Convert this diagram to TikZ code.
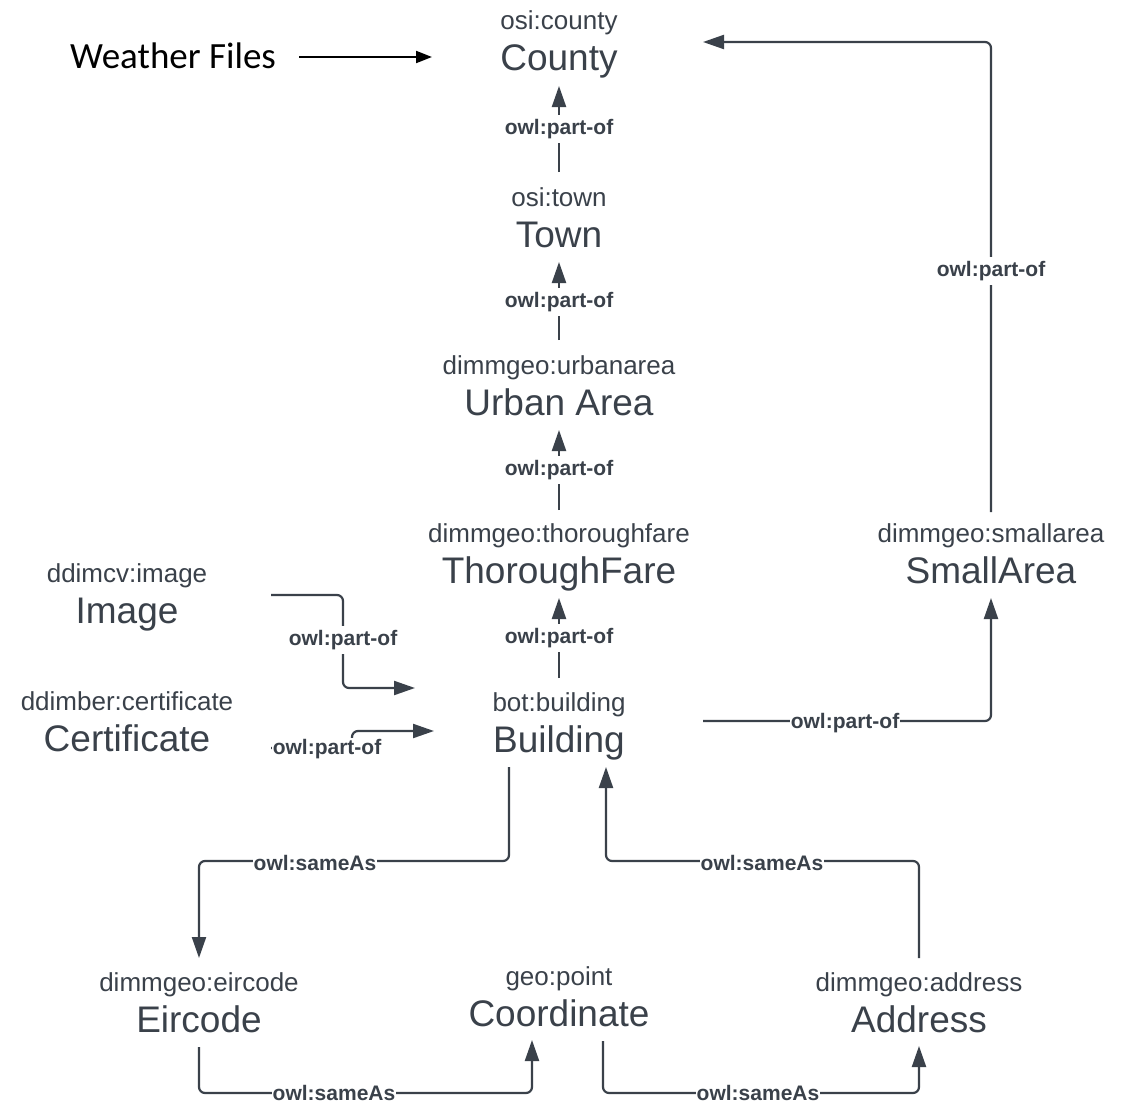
\documentclass[tikz,border=0pt]{standalone}
\usepackage{fontspec}
\setmainfont{Liberation Sans}
\newfontfamily\weatherfont{Carlito}
\usetikzlibrary{arrows.meta,calc}
\definecolor{ink}{RGB}{58,65,74}

\begin{document}
\begin{tikzpicture}[x=1pt,y=-1pt,
  clsname/.style={anchor=base, text=ink, inner sep=0pt, font=\fontsize{37}{40}\selectfont},
  clspre/.style={anchor=base, text=ink, inner sep=0pt, font=\fontsize{26}{30}\selectfont},
  rel/.style={draw=ink, line width=2.2pt, rounded corners=6pt,
    -{Triangle[length=21pt,width=14pt]}},
  lbl/.style={fill=white, text=ink, inner xsep=1pt, inner ysep=4pt,
    font=\bfseries\fontsize{21}{24}\selectfont},
  hlbl/.style={lbl, inner ysep=1pt},
  feed/.style={draw=black, line width=2pt, -{Triangle[length=16pt,width=12pt]}}]

\useasboundingbox[fill=white] (0,0) rectangle (1122,1103);

% classes: prefix above, name below
\node[clspre]  (countyP) at (559,29)   {osi:county};
\node[clsname] (countyN) at (559,70)   {County};
\node[clspre]  (townP)   at (559,206)  {osi:town};
\node[clsname] (townN)   at (559,247)  {Town};
\node[clspre]  (urbanP)  at (559,374)  {dimmgeo:urbanarea};
\node[clsname] (urbanN)  at (559,415)  {Urban Area};
\node[clspre]  (thorP)   at (559,542)  {dimmgeo:thoroughfare};
\node[clsname] (thorN)   at (559,583)  {ThoroughFare};
\node[clspre]  (smallP)  at (991,542)  {dimmgeo:smallarea};
\node[clsname] (smallN)  at (991,583)  {SmallArea};
\node[clspre]  (imageP)  at (127,582)  {ddimcv:image};
\node[clsname] (imageN)  at (127,623)  {Image};
\node[clspre]  (certP)   at (127,710)  {ddimber:certificate};
\node[clsname] (certN)   at (127,751)  {Certificate};
\node[clspre]  (bldP)    at (559,711)  {bot:building};
\node[clsname] (bldN)    at (559,752)  {Building};
\node[clspre]  (eirP)    at (199,991)  {dimmgeo:eircode};
\node[clsname] (eirN)    at (199,1032) {Eircode};
\node[clspre]  (coordP)  at (559,985)  {geo:point};
\node[clsname] (coordN)  at (559,1026) {Coordinate};
\node[clspre]  (addrP)   at (919,991)  {dimmgeo:address};
\node[clsname] (addrN)   at (919,1032) {Address};

% external source
\node[anchor=base west, inner sep=0pt, font=\weatherfont\fontsize{37}{40}\selectfont]
  (weather) at (70,68) {Weather Files};
\draw[feed] ($(weather.base east)+(23,-11)$) -- ($(countyN.base)+(-127,-13)$);

% part-of chain
\draw[rel] ($(townP.base)+(0,-34)$)  -- ($(countyN.base)+(0,16)$);
\draw[rel] ($(urbanP.base)+(0,-34)$) -- ($(townN.base)+(0,15)$);
\draw[rel] ($(thorP.base)+(0,-32)$)  -- ($(urbanN.base)+(0,15)$);
\draw[rel] ($(bldP.base)+(0,-33)$)   -- ($(thorN.base)+(0,15)$);
\draw[rel] ($(bldN.base)+(144,-31)$) -| ($(smallN.base)+(0,15)$);
\draw[rel] ($(smallP.base)+(0,-30)$) |- ($(countyN.base)+(144,-28)$);
\draw[rel] ($(imageN.base)+(144,-28)$) -- ++(72,0) |- ($(bldN.base)+(-144,-64)$);
\draw[rel] ($(certN.base)+(144,-3)$) -- ++(81,0) |- ($(bldN.base)+(-125,-21)$);

% sameAs links
\draw[rel] ($(bldN.base)+(-50,15)$)  -- ++(0,94)  -| ($(eirP.base)+(0,-33)$);
\draw[rel] ($(addrP.base)+(0,-33)$)  -- ++(0,-97) -| ($(bldN.base)+(47,15)$);
\draw[rel] ($(eirN.base)+(0,15)$)    -- ++(0,46)  -| ($(coordN.base)+(-27,14)$);
\draw[rel] ($(coordN.base)+(44,15)$) -- ++(0,52)  -| ($(addrN.base)+(0,14)$);

% connector labels
\node[lbl]  (l1)  at (559,129)  {owl:part-of};
\node[lbl]  (l2)  at (559,302)  {owl:part-of};
\node[lbl]  (l3)  at (559,470)  {owl:part-of};
\node[lbl]  (l4)  at (559,638)  {owl:part-of};
\node[hlbl] (l5)  at (845,723)  {owl:part-of};
\node[lbl]  (l6)  at (991,271)  {owl:part-of};
\node[lbl]  (l7)  at (343,640)  {owl:part-of};
\node[hlbl] (l8)  at (327,749)  {owl:part-of};
\node[hlbl] (l9)  at (315,863)  {owl:sameAs};
\node[hlbl] (l10) at (762,863)  {owl:sameAs};
\node[hlbl] (l11) at (334,1093) {owl:sameAs};
\node[hlbl] (l12) at (758,1093) {owl:sameAs};
\end{tikzpicture}
\end{document}
